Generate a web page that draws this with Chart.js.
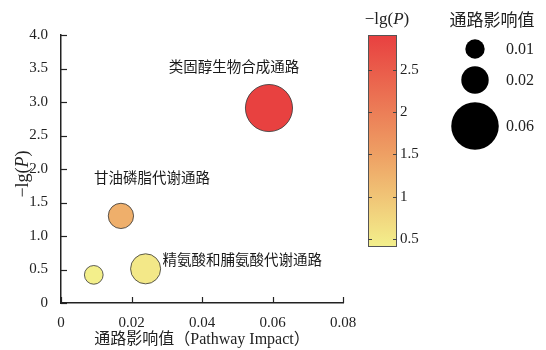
<!DOCTYPE html>
<html>
<head>
<meta charset="utf-8">
<script src="https://cdn.jsdelivr.net/npm/chart.js@4.4.1/dist/chart.umd.min.js"></script>
<style>
  body { margin: 0; background: #fff; }
  #wrap { width: 546px; height: 350px; }
</style>
</head>
<body>
<div id="wrap"><canvas id="pathwayChart" width="546" height="350"></canvas></div>
<script>
// 数据
const pathwayNames = ['类固醇生物合成通路', '甘油磷脂代谢通路', '精氨酸和脯氨酸代谢通路', ''];
const impactValues = [0.059, 0.017, 0.024, 0.0093];
const logPValues = [2.91, 1.30, 0.51, 0.42];
const xTicks = [0, 0.02, 0.04, 0.06, 0.08];
const yTicks = [0, 0.5, 1.0, 1.5, 2.0, 2.5, 3.0, 3.5, 4.0];
const colorbarTicks = [0.5, 1, 1.5, 2, 2.5];
const colorbarRange = [0.4, 2.92];
const sizeLegendValues = [0.01, 0.02, 0.06];

// 样式
const serif = '"Liberation Serif", "Noto Sans CJK SC", serif';
const cjk = '"Noto Sans CJK SC", "Liberation Serif", sans-serif';
const colorStops = [
  [0.4, [243, 240, 140]],
  [1.5, [238, 160, 100]],
  [2.92, [232, 64, 64]]
];
// 标签相对气泡中心的位置
const labelOffsets = [
  { dx: -35, dy: -42, align: 'center' },
  { dx: 31, dy: -38, align: 'center' },
  { dx: 17, dy: -9, align: 'left' },
  null
];

function radiusFor(v) {
  return 97 * Math.sqrt(v);
}

function colorFor(v) {
  for (let i = 0; i < colorStops.length - 1; i++) {
    const [a, ca] = colorStops[i];
    const [b, cb] = colorStops[i + 1];
    if (v <= b || i === colorStops.length - 2) {
      const t = Math.max(0, Math.min(1, (v - a) / (b - a)));
      const c = ca.map((x, k) => Math.round(x + (cb[k] - x) * t));
      return `rgb(${c[0]}, ${c[1]}, ${c[2]})`;
    }
  }
}

const points = impactValues.map((v, i) => ({ x: v, y: logPValues[i], r: radiusFor(v) }));

// 自定义绘制：刻度、标签、色条、图例
const overlay = {
  id: 'overlay',
  afterDraw(chart) {
    const ctx = chart.ctx;
    const xs = chart.scales.x;
    const ys = chart.scales.y;
    const area = chart.chartArea;
    ctx.save();

    // 内向刻度
    ctx.strokeStyle = '#222';
    ctx.lineWidth = 1.2;
    xTicks.forEach(t => {
      const px = Math.round(xs.getPixelForValue(t)) + 0.5;
      ctx.beginPath();
      ctx.moveTo(px, area.bottom);
      ctx.lineTo(px, area.bottom - 6);
      ctx.stroke();
    });
    yTicks.forEach(t => {
      const py = Math.round(ys.getPixelForValue(t)) + 0.5;
      ctx.beginPath();
      ctx.moveTo(area.left, py);
      ctx.lineTo(area.left + 6, py);
      ctx.stroke();
    });

    // 气泡标签
    const meta = chart.getDatasetMeta(0);
    ctx.fillStyle = '#1a1a1a';
    ctx.font = '14.5px ' + cjk;
    ctx.textBaseline = 'middle';
    meta.data.forEach((el, i) => {
      const off = labelOffsets[i];
      if (!off || !pathwayNames[i]) return;
      ctx.textAlign = off.align;
      ctx.fillText(pathwayNames[i], el.x + off.dx, el.y + off.dy);
    });

    // y 轴标题 -lg(P)
    drawLgP(ctx, 23, (area.top + area.bottom) / 2 + 5, -Math.PI / 2, 18);

    // 色条
    const cb = { left: 368, right: 397, top: 35, bottom: 247 };
    const valToY = v => cb.bottom - (v - colorbarRange[0]) / (colorbarRange[1] - colorbarRange[0]) * (cb.bottom - cb.top);
    const grad = ctx.createLinearGradient(0, cb.bottom, 0, cb.top);
    colorStops.forEach(([v]) => {
      grad.addColorStop((v - colorbarRange[0]) / (colorbarRange[1] - colorbarRange[0]), colorFor(v));
    });
    ctx.fillStyle = grad;
    ctx.fillRect(cb.left, cb.top, cb.right - cb.left, cb.bottom - cb.top);
    ctx.strokeStyle = '#555';
    ctx.lineWidth = 1;
    ctx.strokeRect(cb.left + 0.5, cb.top + 0.5, cb.right - cb.left - 1, cb.bottom - cb.top - 1);
    ctx.strokeStyle = '#444';
    ctx.fillStyle = '#222';
    ctx.font = '15px ' + serif;
    ctx.textAlign = 'left';
    ctx.textBaseline = 'middle';
    colorbarTicks.forEach(t => {
      const py = Math.round(valToY(t)) + 0.5;
      ctx.beginPath();
      ctx.moveTo(cb.left, py);
      ctx.lineTo(cb.left + 4, py);
      ctx.moveTo(cb.right - 4, py);
      ctx.lineTo(cb.right, py);
      ctx.stroke();
      ctx.fillText(String(t), cb.right + 3, py);
    });
    drawLgP(ctx, 387, 20, 0, 17);

    // 气泡大小图例
    ctx.fillStyle = '#222';
    ctx.font = '17px ' + cjk;
    ctx.textAlign = 'center';
    ctx.fillText('通路影响值', 492, 20);
    const legendY = [49, 80, 126];
    ctx.font = '16px ' + serif;
    sizeLegendValues.forEach((v, i) => {
      ctx.fillStyle = '#000';
      ctx.beginPath();
      ctx.arc(475, legendY[i], radiusFor(v), 0, Math.PI * 2);
      ctx.fill();
      ctx.fillStyle = '#222';
      ctx.textAlign = 'left';
      ctx.fillText(String(v), 506, legendY[i] + 1);
    });

    ctx.restore();
  }
};

// "−lg(P)" 带斜体 P
function drawLgP(ctx, x, y, rot, size) {
  const parts = [
    ['−lg(', ''],
    ['P', 'italic '],
    [')', '']
  ];
  ctx.save();
  ctx.translate(x, y);
  ctx.rotate(rot);
  ctx.fillStyle = '#222';
  ctx.textBaseline = 'middle';
  ctx.textAlign = 'left';
  let total = 0;
  parts.forEach(([t, s]) => {
    ctx.font = s + size + 'px ' + serif;
    total += ctx.measureText(t).width;
  });
  let cx = -total / 2;
  parts.forEach(([t, s]) => {
    ctx.font = s + size + 'px ' + serif;
    ctx.fillText(t, cx, 0);
    cx += ctx.measureText(t).width;
  });
  ctx.restore();
}

new Chart(document.getElementById('pathwayChart'), {
  type: 'bubble',
  data: {
    datasets: [{
      label: '通路',
      data: points,
      backgroundColor: logPValues.map(colorFor),
      borderColor: '#333',
      borderWidth: 0.8,
      hoverRadius: 0
    }]
  },
  options: {
    responsive: false,
    animation: false,
    layout: {
      padding: { left: 0, top: 35, right: 203, bottom: 0 }
    },
    plugins: {
      legend: { display: false },
      tooltip: { enabled: false }
    },
    scales: {
      x: {
        type: 'linear',
        min: 0,
        max: 0.08,
        afterFit: s => { s.height = 47; },
        afterBuildTicks: s => { s.ticks = xTicks.map(v => ({ value: v })); },
        grid: { display: false },
        border: { display: true, color: '#222', width: 1.5 },
        ticks: {
          color: '#222',
          padding: 3,
          font: { family: 'Liberation Serif', size: 15 },
          callback: v => (v === 0 ? '0' : v.toFixed(2))
        },
        title: {
          display: true,
          text: '通路影响值（Pathway Impact）',
          color: '#222',
          font: { family: serif, size: 16 },
          padding: { top: 0, bottom: 1 }
        }
      },
      y: {
        type: 'linear',
        min: 0,
        max: 4,
        afterFit: s => { s.width = 61; },
        afterBuildTicks: s => { s.ticks = yTicks.map(v => ({ value: v })); },
        grid: { display: false },
        border: { display: true, color: '#222', width: 1.5 },
        ticks: {
          color: '#222',
          padding: 5,
          font: { family: 'Liberation Serif', size: 15 },
          callback: v => (v === 0 ? '0' : v.toFixed(1))
        }
      }
    }
  },
  plugins: [overlay]
});
</script>
</body>
</html>
